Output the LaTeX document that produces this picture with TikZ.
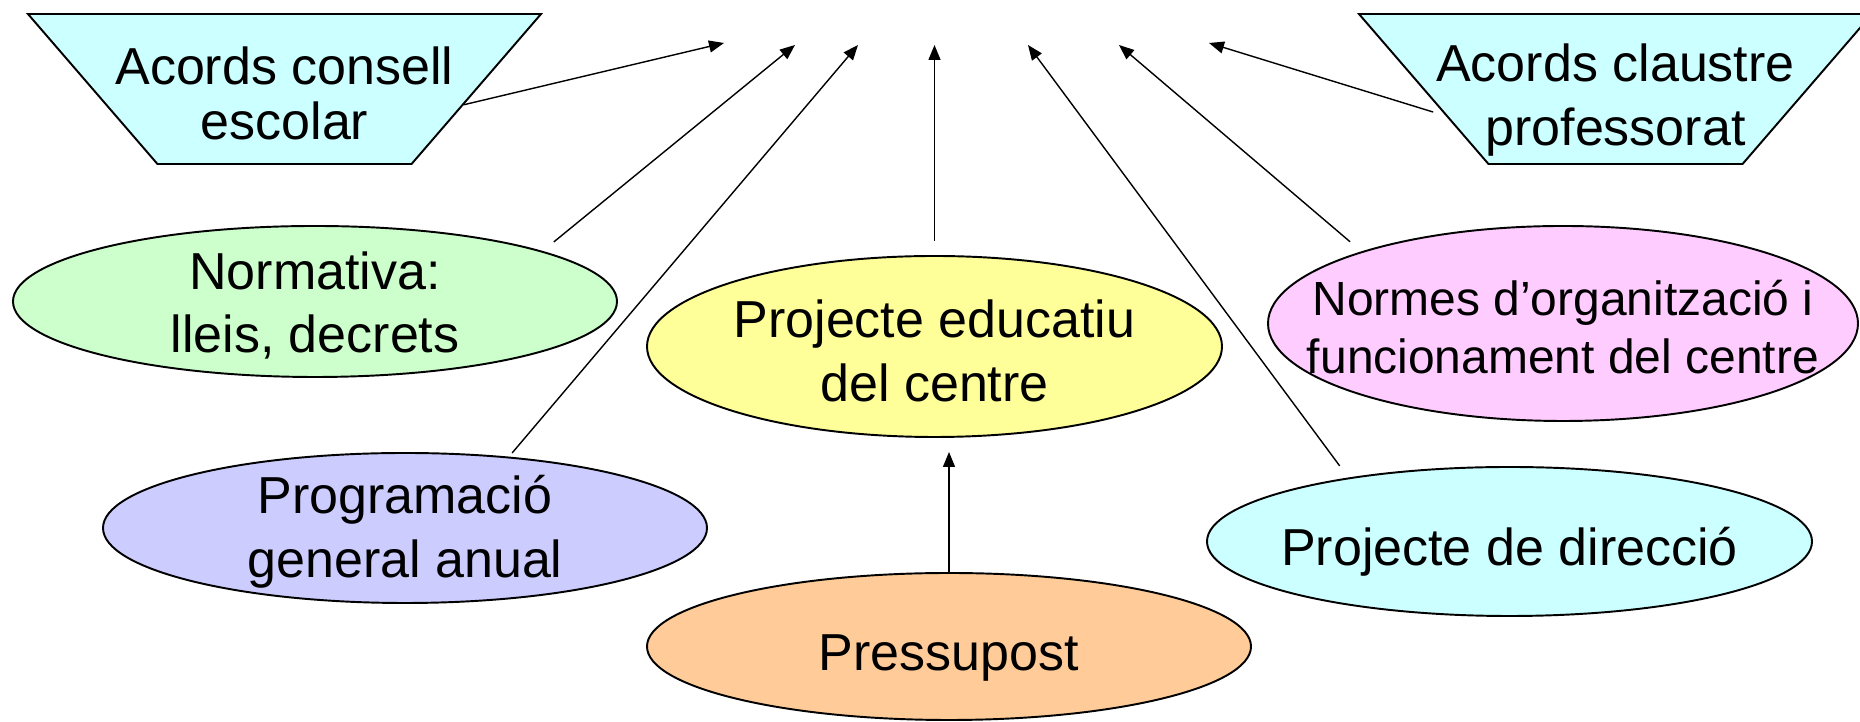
\documentclass[tikz,border=0pt]{standalone}
\usepackage{fontspec}
\setmainfont{Liberation Sans}
\usepackage{xcolor}
\usetikzlibrary{shapes.geometric,arrows.meta}

\definecolor{cyanlt}{HTML}{CCFFFF}
\definecolor{greenlt}{HTML}{CCFFCC}
\definecolor{yellowlt}{HTML}{FFFF99}
\definecolor{pinklt}{HTML}{FFCCFF}
\definecolor{bluelt}{HTML}{CCCCFF}
\definecolor{orangelt}{HTML}{FFCC99}

\begin{document}
\begin{tikzpicture}[
    blob/.style={ellipse, draw, line width=1.1pt, outer sep=0.3cm},
    trap/.style={trapezium, draw, line width=1.1pt, fill=cyanlt,
        trapezium angle=63, trapezium stretches=true, shape border rotate=180,
        minimum width=10.26cm, minimum height=3cm},
    txt/.style={font=\fontsize{29.6}{36.4}\selectfont, align=center, yshift=-0.08cm},
    arr/.style={-{Triangle[length=0.3cm, width=0.24cm]}, line width=0.8pt}]

    \fill[white] (0,0) rectangle (37.2,14.44);
    \useasboundingbox (0,0) rectangle (37.2,14.44);

    \node[trap, label={[txt, font=\fontsize{29.6}{31.3}\selectfont, yshift=0cm]center:{Acords consell\\escolar}}] (cons) at (5.69,12.66) {};
    \node[trap, label={[txt, yshift=-0.15cm]center:{Acords claustre\\professorat}}] (claus) at (32.31,12.66) {};

    \node[blob, fill=greenlt, minimum width=12.08cm, minimum height=3.02cm,
        label={[txt]center:{Normativa:\\lleis, decrets}}] (norm) at (6.30,8.41) {};
    \node[blob, fill=yellowlt, minimum width=11.5cm, minimum height=3.62cm,
        label={[txt]center:{Projecte educatiu\\del centre}}] (proj) at (18.69,7.51) {};
    \node[blob, fill=pinklt, minimum width=11.8cm, minimum height=3.9cm,
        label={[txt, font=\fontsize{27.3}{33}\selectfont]center:{Normes d’organització i\\funcionament del centre}}] (norg) at (31.26,7.97) {};
    \node[blob, fill=bluelt, minimum width=12.08cm, minimum height=3cm, outer sep=0.1cm,
        label={[txt]center:{Programació\\general anual}}] (prog) at (8.10,3.88) {};
    \node[blob, fill=cyanlt, minimum width=12.1cm, minimum height=2.98cm,
        label={[txt, yshift=-0.12cm]center:{Projecte de direcció}}] (dir) at (30.19,3.61) {};
    \node[blob, fill=orangelt, minimum width=12.08cm, minimum height=2.94cm, outer sep=0pt,
        label={[txt, yshift=-0.16cm]center:{Pressupost}}] (press) at (18.98,1.51) {};

    \coordinate (t1) at (14.48,13.58);
    \coordinate (t2) at (15.90,13.54);
    \coordinate (t3) at (17.16,13.54);
    \coordinate (t4) at (18.69,13.54);
    \coordinate (t5) at (20.56,13.54);
    \coordinate (t6) at (22.38,13.54);
    \coordinate (t7) at (24.18,13.58);

    \path[arr]
        (cons.-5) edge (t1)
        (norm.14) edge (t2)
        (prog.35) edge (t3)
        (proj.north) edge (t4)
        (dir.156) edge (t5)
        (norg.159) edge (t6)
        (claus.189) edge[shorten <=0.26cm] (t7)
        (press.north) edge (press.north |- proj.south);

\end{tikzpicture}
\end{document}
